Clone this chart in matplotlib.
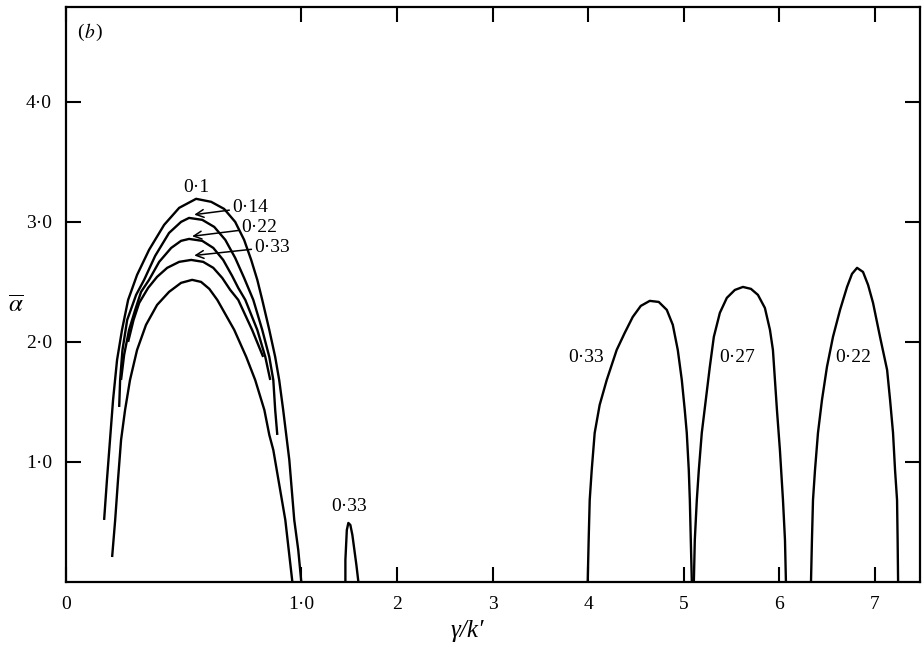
import numpy as np
import matplotlib
matplotlib.use("Agg")
import matplotlib.pyplot as plt

plt.rcParams["font.family"] = ["Liberation Serif", "DejaVu Serif"]
plt.rcParams["mathtext.fontset"] = "stix"

# left family of curves (gamma/k' below 1), labelled by parameter value
c010_x = [0.162, 0.174, 0.187, 0.200, 0.217, 0.238, 0.264, 0.302, 0.353, 0.417, 0.481, 0.553,
          0.617, 0.672, 0.719, 0.757, 0.787, 0.813, 0.834, 0.864, 0.889, 0.906, 0.923, 0.936,
          0.949, 0.970, 0.987, 1.000]
c010_y = [0.517, 0.850, 1.183, 1.517, 1.850, 2.100, 2.350, 2.558, 2.767, 2.975, 3.117, 3.192,
          3.167, 3.108, 3.000, 2.850, 2.683, 2.517, 2.350, 2.100, 1.875, 1.683, 1.433, 1.225,
          1.017, 0.517, 0.267, 0.000]

c014_x = [0.226, 0.230, 0.240, 0.260, 0.298, 0.332, 0.379, 0.438, 0.489, 0.523,
          0.579, 0.630, 0.677, 0.719, 0.757, 0.796, 0.834, 0.864, 0.881, 0.889, 0.898]
c014_y = [1.458, 1.683, 1.933, 2.183, 2.392, 2.517, 2.717, 2.908, 3.000, 3.033,
          3.017, 2.958, 2.850, 2.700, 2.533, 2.350, 2.100, 1.875, 1.683, 1.433, 1.225]

c022_x = [0.234, 0.247, 0.268, 0.294, 0.319, 0.353, 0.396, 0.447, 0.489, 0.523,
          0.579, 0.626, 0.668, 0.706, 0.732, 0.762, 0.813, 0.847, 0.868]
c022_y = [1.683, 1.892, 2.100, 2.267, 2.417, 2.517, 2.667, 2.783, 2.842, 2.858,
          2.842, 2.783, 2.683, 2.550, 2.450, 2.350, 2.100, 1.875, 1.683]

c033_x = [0.264, 0.287, 0.311, 0.349, 0.387, 0.430, 0.481, 0.532,
          0.583, 0.626, 0.664, 0.698, 0.732, 0.791, 0.838]
c033_y = [2.000, 2.183, 2.325, 2.450, 2.542, 2.617, 2.667, 2.683,
          2.667, 2.617, 2.533, 2.433, 2.350, 2.100, 1.875]

cin_x = [0.196, 0.209, 0.221, 0.234, 0.251, 0.272, 0.302, 0.340, 0.387, 0.438, 0.489, 0.536,
         0.574, 0.609, 0.643, 0.715, 0.766, 0.804, 0.843, 0.864, 0.881, 0.932, 0.962]
cin_y = [0.208, 0.517, 0.850, 1.183, 1.433, 1.683, 1.933, 2.142, 2.308, 2.417, 2.492, 2.517,
         2.500, 2.442, 2.350, 2.100, 1.875, 1.683, 1.433, 1.225, 1.100, 0.517, 0.000]

# small lobe near 1.5
s033_x = [1.461, 1.461, 1.471, 1.476, 1.492, 1.513, 1.534, 1.555, 1.576, 1.597]
s033_y = [0.000, 0.183, 0.350, 0.433, 0.492, 0.475, 0.392, 0.267, 0.142, 0.000]

# right lobes
r033_x = [3.995, 4.005, 4.016, 4.037, 4.068, 4.120, 4.194, 4.298, 4.382, 4.466, 4.550, 4.644,
          4.738, 4.822, 4.885, 4.937, 4.979, 5.010, 5.031, 5.052, 5.063, 5.073, 5.084]
r033_y = [0.000, 0.350, 0.683, 0.933, 1.242, 1.475, 1.683, 1.933, 2.075, 2.208, 2.300, 2.342,
          2.333, 2.267, 2.142, 1.933, 1.683, 1.433, 1.242, 0.933, 0.683, 0.350, 0.000]

r027_x = [5.105, 5.115, 5.136, 5.157, 5.188, 5.230, 5.272, 5.314, 5.377, 5.450, 5.534, 5.618,
          5.702, 5.775, 5.848, 5.901, 5.932, 5.953, 5.974, 6.005, 6.037, 6.058, 6.068]
r027_y = [0.000, 0.350, 0.683, 0.933, 1.242, 1.517, 1.792, 2.042, 2.242, 2.367, 2.433, 2.458,
          2.442, 2.392, 2.283, 2.100, 1.933, 1.683, 1.433, 1.100, 0.683, 0.350, 0.000]

r022_x = [6.330, 6.340, 6.351, 6.372, 6.403, 6.445, 6.497, 6.560, 6.634, 6.707, 6.759, 6.812,
          6.874, 6.927, 6.979, 7.052, 7.126, 7.157, 7.188, 7.209, 7.230, 7.236, 7.241]
r022_y = [0.000, 0.350, 0.683, 0.933, 1.242, 1.517, 1.792, 2.042, 2.267, 2.458, 2.567, 2.617,
          2.583, 2.475, 2.325, 2.042, 1.767, 1.517, 1.242, 0.933, 0.683, 0.350, 0.000]

x_ticks = [0, 1, 2, 3, 4, 5, 6, 7]
x_ticklabels = ["0", "1·0", "2", "3", "4", "5", "6", "7"]
y_ticks = [1, 2, 3, 4]
y_ticklabels = ["1·0", "2·0", "3·0", "4·0"]

# the first unit of the horizontal axis is stretched
K = 235 / 95.5


def fwd(x):
    x = np.asarray(x, dtype=float)
    return np.where(x <= 1, K * x, K + (x - 1))


def inv(y):
    y = np.asarray(y, dtype=float)
    return np.where(y <= K, y / K, y - K + 1)


fig = plt.figure(figsize=(9.22, 6.47), dpi=100)
ax = fig.add_axes([66 / 922, 1 - 582 / 647, (920 - 66) / 922, (582 - 7) / 647])
ax.set_xscale("function", functions=(fwd, inv))
ax.set_xlim(0, 7.47)
ax.set_ylim(0, 4.79)

lw = 1.7
for xs, ys in [(c010_x, c010_y), (c014_x, c014_y), (c022_x, c022_y), (c033_x, c033_y), (cin_x, cin_y),
               (s033_x, s033_y), (r033_x, r033_y), (r027_x, r027_y), (r022_x, r022_y)]:
    ax.plot(xs, ys, color="black", lw=lw, solid_capstyle="butt", solid_joinstyle="round")

fs = 14
ax.text(0.553, 3.29, "0·1", fontsize=fs, ha="center", va="center")
arrow = dict(arrowstyle="->", lw=1.1, color="black", shrinkA=0, shrinkB=0)
ax.annotate("0·14", xy=(0.545, 3.06), xytext=(0.706, 3.12), fontsize=fs, ha="left", va="center",
            arrowprops=arrow)
ax.annotate("0·22", xy=(0.536, 2.88), xytext=(0.745, 2.95), fontsize=fs, ha="left", va="center",
            arrowprops=arrow)
ax.annotate("0·33", xy=(0.545, 2.72), xytext=(0.80, 2.79), fontsize=fs, ha="left", va="center",
            arrowprops=arrow)
ax.text(1.503, 0.625, "0·33", fontsize=fs, ha="center", va="center")
ax.text(3.974, 1.87, "0·33", fontsize=fs, ha="center", va="center")
ax.text(5.555, 1.87, "0·27", fontsize=fs, ha="center", va="center")
ax.text(6.77, 1.87, "0·22", fontsize=fs, ha="center", va="center")
ax.text(0.076, 4.58, "(", fontsize=fs, ha="right", va="center")
ax.text(0.076, 4.58, "$b$", fontsize=fs, ha="left", va="center")
ax.text(0.123, 4.58, ")", fontsize=fs, ha="left", va="center")

ax.set_xticks(x_ticks)
ax.set_xticklabels(x_ticklabels)
ax.set_yticks(y_ticks)
ax.set_yticklabels(y_ticklabels)
ax.xaxis.set_minor_locator(matplotlib.ticker.NullLocator())
ax.tick_params(direction="in", top=True, right=True, length=11, width=1.5, labelsize=fs)
ax.tick_params(axis="x", pad=10)
ax.tick_params(axis="y", pad=10)
for s in ax.spines.values():
    s.set_linewidth(1.6)

fig.text(467 / 922, 1 - 631 / 647, "γ/k′", fontsize=18, fontstyle="italic", ha="center", va="center")
fig.text(16 / 922, 1 - 306 / 647, r"$\overline{\alpha}$", fontsize=18, ha="center", va="center")

fig.savefig("out.png", dpi=100)
